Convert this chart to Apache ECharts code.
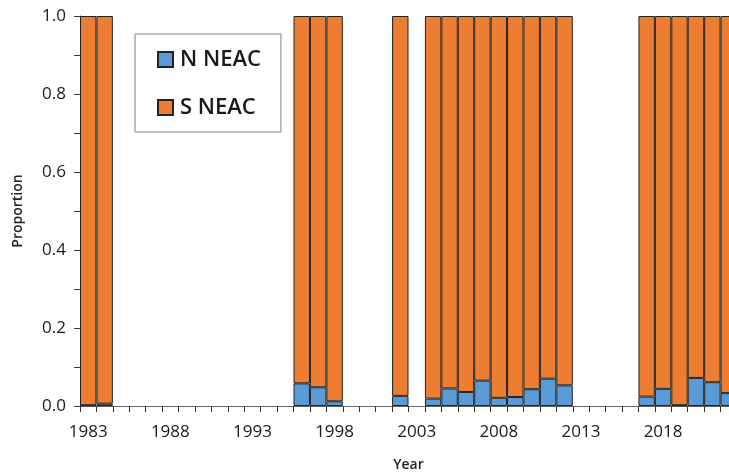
<!DOCTYPE html>
<html>
<head>
<meta charset="utf-8">
<script src="https://cdn.jsdelivr.net/npm/echarts@6/dist/echarts.min.js"></script>
<style>
html,body{margin:0;padding:0;background:#fff;overflow:hidden;}
#chart{width:729px;height:472px;}
</style>
</head>
<body>
<div id="chart"></div>
<script>
const years = [];
for (let y = 1983; y <= 2022; y++) years.push(String(y));

// N NEAC proportion by year (years without data are left empty)
const nNeacYears = ['1983','1984','1996','1997','1998','2002','2004','2005','2006','2007','2008','2009','2010','2011','2012','2017','2018','2019','2020','2021','2022'];
const nNeacValues = [0.002,0.006,0.058,0.048,0.012,0.026,0.019,0.045,0.036,0.065,0.021,0.023,0.043,0.070,0.053,0.024,0.044,0.002,0.072,0.061,0.033];

const nMap = {};
nNeacYears.forEach((y, i) => nMap[y] = nNeacValues[i]);
const nData = years.map(y => (y in nMap) ? nMap[y] : null);
const sData = years.map(y => (y in nMap) ? +(1 - nMap[y]).toFixed(3) : null);

const font = 'Open Sans';
const chart = echarts.init(document.getElementById('chart'));
chart.setOption({
  animation: false,
  textStyle: { fontFamily: font },
  grid: { left: 80, top: 16, bottom: 66, right: -8, containLabel: false, outerBoundsMode: 'none' },
  legend: {
    orient: 'vertical',
    left: 135, top: 34,
    padding: [14, 20, 13, 22],
    itemGap: 25,
    itemWidth: 15, itemHeight: 15,
    icon: 'rect',
    backgroundColor: '#fff',
    borderColor: '#7f7f7f', borderWidth: 1,
    textStyle: { fontSize: 22, fontWeight: 600, color: '#1a1a1a', fontFamily: font, lineHeight: 23, padding: [0, 0, 0, 2] },
    data: ['N NEAC', 'S NEAC']
  },
  xAxis: {
    type: 'category',
    data: years,
    name: 'Year',
    nameLocation: 'middle',
    nameGap: 52,
    nameTextStyle: { fontSize: 14, color: '#222', fontWeight: 600 },
    axisLine: { lineStyle: { color: '#666', width: 1 } },
    axisTick: { show: true, alignWithLabel: false, interval: 0, length: 6, lineStyle: { color: '#333' } },
    axisLabel: { interval: 4, fontSize: 17, color: '#1a1a1a', margin: 18 }
  },
  yAxis: {
    type: 'value',
    min: 0, max: 1, interval: 0.2,
    name: 'Proportion',
    nameLocation: 'middle',
    nameGap: 55,
    nameRotate: 90,
    nameTextStyle: { fontSize: 14, color: '#222', fontWeight: 600 },
    splitLine: { show: false },
    axisLine: { show: true, lineStyle: { color: '#666', width: 1 } },
    axisTick: { show: true, length: 6, lineStyle: { color: '#333' } },
    minorTick: { show: true, splitNumber: 2, length: 6, lineStyle: { color: '#333' } },
    axisLabel: { fontSize: 17, color: '#1a1a1a', margin: 14, formatter: v => v.toFixed(1) }
  },
  series: [
    {
      name: 'N NEAC', type: 'bar', stack: 'p', data: nData,
      barCategoryGap: '0%', barGap: '0%',
      itemStyle: { color: '#5B9BD5', borderColor: '#222', borderWidth: 1 }
    },
    {
      name: 'S NEAC', type: 'bar', stack: 'p', data: sData,
      barCategoryGap: '0%', barGap: '0%',
      itemStyle: { color: '#ED7D31', borderColor: '#222', borderWidth: 1 }
    }
  ]
});
</script>
</body>
</html>
